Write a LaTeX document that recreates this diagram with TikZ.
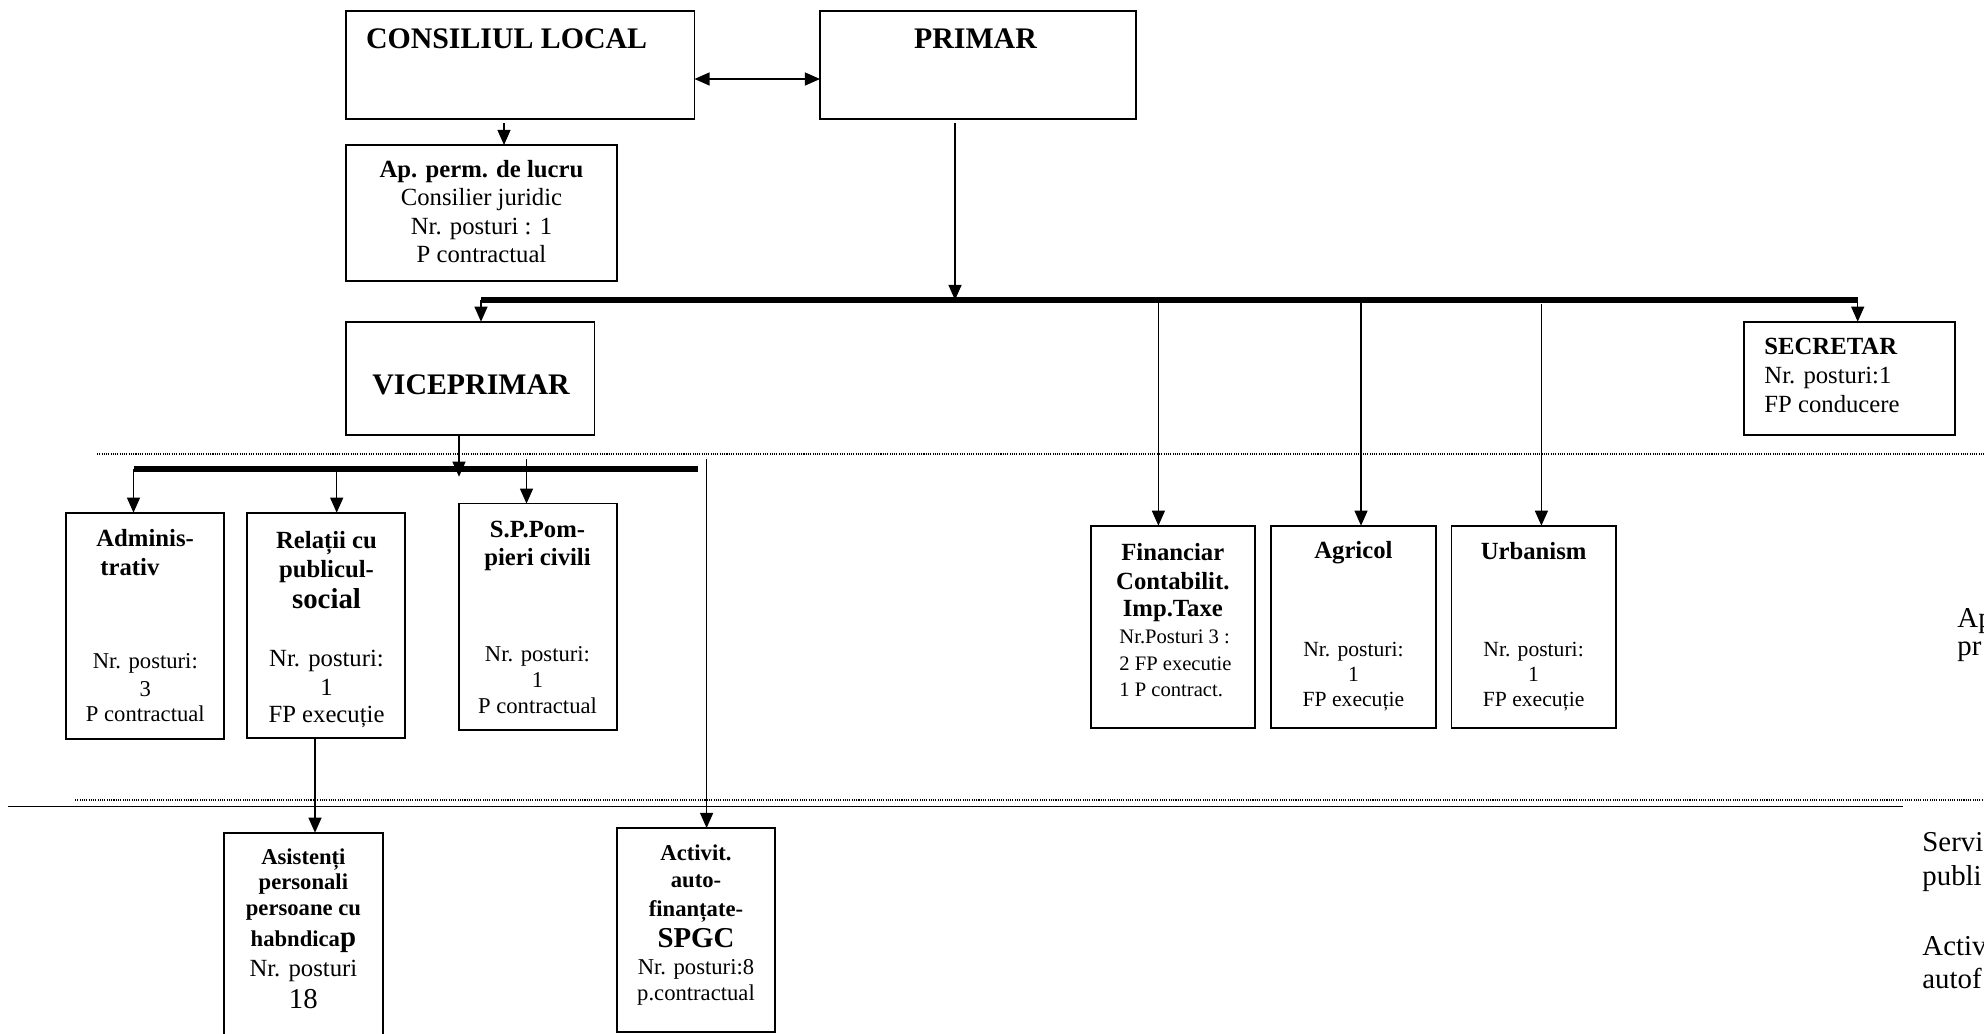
\documentclass[tikz,border=0pt]{standalone}
\usepackage{fontspec}
\setmainfont{Liberation Serif}
\usetikzlibrary{arrows.meta,calc}
\newcommand{\fs}[1]{\fontsize{#1}{#1}\selectfont}
\newcommand{\mkbox}[5]{\node[boxst, minimum width={(#4-#2)*0.4858pt}, minimum height={(#5-#3)*0.4858pt}] (#1) at ({(#2+#4)/2},{(#3+#5)/2}) {};}
\begin{document}
\begin{tikzpicture}[x=0.4858pt,y=-0.4858pt,
  mytip/.tip={Triangle[length=7.3pt,width=6.3pt]},
  boxst/.style={draw, line width=0.85pt, inner sep=0pt, outer sep=0pt},
  conn/.style={line width=0.65pt, -mytip},
  dbl/.style={line width=0.65pt, mytip-mytip},
  plainline/.style={line width=0.65pt},
  bus/.style={line width=2.8pt},
  dots/.style={line width=0.5pt, dash pattern=on 0.5pt off 0.6pt},
  txt/.style={inner sep=0pt, anchor=base},
  txl/.style={inner sep=0pt, anchor=base west},
  H/.style={font=\fs{14.5}\bfseries},
  B12/.style={font=\fs{12}\bfseries},
  B11/.style={font=\fs{11}\bfseries},
  B14/.style={font=\fs{14}\bfseries},
  R12/.style={font=\fs{12}},
  R11/.style={font=\fs{11}},
  R10/.style={font=\fs{10}},
  R105/.style={font=\fs{10.5}},
  R14/.style={font=\fs{14}}
]
\useasboundingbox (0,0) rectangle (1984,1034);

% ---------- boxes ----------
\mkbox{cl}{345.7}{11}{694.5}{119.3}
\mkbox{primar}{820}{11}{1136}{119.3}
\mkbox{ap}{346}{145}{617}{280.7}
\mkbox{vice}{346}{321.7}{594.6}{435}
\mkbox{sec}{1744.3}{321.7}{1955}{435}
\mkbox{adm}{66.3}{512.7}{224.3}{739}
\mkbox{rel}{246.7}{512.7}{405}{737.7}
\mkbox{spom}{459}{503.6}{616.8}{729.8}
\mkbox{fin}{1090.7}{525.7}{1255}{728.3}
\mkbox{agr}{1271}{525.7}{1435.7}{728.3}
\mkbox{urb}{1451.4}{525.7}{1615.8}{728.3}
\mkbox{asi}{224}{832.7}{382.7}{1050}
\mkbox{act}{616.8}{828}{775}{1031.7}

% ---------- texts ----------
\node[txl,H] (clt) at (365.6,48.3) {CONSILIUL LOCAL};
\node[txt,H] (prt) at (975.5,48.3) {PRIMAR};
\node[txt,H] (vit) at (471,395) {VICEPRIMAR};

\node[txt,B12] (ap1) at (481.5,177.5) {Ap. perm. de lucru};
\node[txt,R12] (ap2) at (481.5,206) {Consilier juridic};
\node[txt,R12] (ap3) at (481.5,234.5) {Nr. posturi : 1};
\node[txt,R12] (ap4) at (481.5,263) {P contractual};

\node[txl,B12] (se1) at (1764,355) {SECRETAR};
\node[txl,R12] (se2) at (1764,384) {Nr. posturi:1};
\node[txl,R12] (se3) at (1764,413) {FP conducere};

\node[txl,B12] (ad1) at (96,546.5) {Adminis-};
\node[txl,B12] (ad2) at (100,575) {trativ};
\node[txt,R11] (ad3) at (145.3,668.5) {Nr. posturi:};
\node[txt,R11] (ad4) at (145.3,696.5) {3};
\node[txt,R11] (ad5) at (145.3,721.7) {P contractual};

\node[txt,B12] (re1) at (326.5,548.3) {Relații cu};
\node[txt,B12] (re2) at (326.5,577.3) {publicul-};
\node[txt,B14] (re3) at (326.5,608.3) {social};
\node[txt,R12] (re4) at (326.5,666.7) {Nr. posturi:};
\node[txt,R12] (re5) at (326.5,695) {1};
\node[txt,R12] (re6) at (326.5,722.7) {FP execuție};

\node[txt,B12] (sp1) at (537.5,537) {S.P.Pom-};
\node[txt,B12] (sp2) at (537.5,565) {pieri civili};
\node[txt,R11] (sp3) at (537.5,661.5) {Nr. posturi:};
\node[txt,R11] (sp4) at (537.5,687) {1};
\node[txt,R11] (sp5) at (537.5,713.5) {P contractual};

\node[txt,B12] (fi1) at (1172.8,560) {Financiar};
\node[txt,B12] (fi2) at (1172.8,589) {Contabilit.};
\node[txt,B12] (fi3) at (1172.8,616) {Imp.Taxe};
\node[txl,R10] (fi4) at (1119,643.3) {Nr.Posturi 3 :};
\node[txl,R10] (fi5) at (1119,670) {2 FP executie};
\node[txl,R10] (fi6) at (1119,696.7) {1 P contract.};

\node[txt,B12] (ag1) at (1353.4,558.5) {Agricol};
\node[txt,R105] (ag2) at (1353.4,656) {Nr. posturi:};
\node[txt,R105] (ag3) at (1353.4,681) {1};
\node[txt,R105] (ag4) at (1353.4,706.5) {FP execuție};

\node[txt,B12] (ur1) at (1533.6,559.5) {Urbanism};
\node[txt,R105] (ur2) at (1533.6,656) {Nr. posturi:};
\node[txt,R105] (ur3) at (1533.6,681) {1};
\node[txt,R105] (ur4) at (1533.6,706.5) {FP execuție};

\node[txt,B11] (as1) at (303.4,864) {Asistenți};
\node[txt,B11] (as2) at (303.4,889) {personali};
\node[txt,B11] (as3) at (303.4,915) {persoane cu};
\node[txt,B11] (as4) at (303.4,946.5) {habndica{\fs{14}p}};
\node[txt,R12] (as5) at (303.4,976) {Nr. posturi};
\node[txt,R14] (as6) at (303.4,1008) {18};

\node[txt,B11] (ac1) at (696,860.5) {Activit.};
\node[txt,B11] (ac2) at (696,887.5) {auto-};
\node[txt,B11] (ac3) at (696,916.5) {finanțate-};
\node[txt,B14] (ac4) at (696,947.6) {SPGC};
\node[txt,R11] (ac5) at (696,974.8) {Nr. posturi:8};
\node[txt,R11] (ac6) at (696,1000.5) {p.contractual};

\node[txl,R14] (rt1) at (1957,627) {Ap};
\node[txl,R14] (rt2) at (1957,655) {pr};
\node[txl,R14] (rt3) at (1922,851.5) {Servi};
\node[txl,R14] (rt4) at (1922,885) {publi};
\node[txl,R14] (rt5) at (1922,955) {Activ};
\node[txl,R14] (rt6) at (1922,988) {autof};

% ---------- coordinates ----------
\coordinate (y79) at (0,79);
\coordinate (xcl) at (504,0);
\coordinate (xpr) at (955,0);
\coordinate (b1m) at (955,300);
\coordinate (b1l) at (481,300);
\coordinate (b1r) at (1857.7,300);
\coordinate (b1f) at (1158.4,300);
\coordinate (b1a) at (1361,300);
\coordinate (urt) at (1541.4,304);
\coordinate (d1a) at (97,454);
\coordinate (d1b) at (1990,454);
\coordinate (xv) at (459,476.7);
\coordinate (b2l) at (133.5,469.3);
\coordinate (b2r) at (698,469.3);
\coordinate (b2m) at (336.7,469.3);
\coordinate (sps) at (526.5,459);
\coordinate (acs) at (706.6,459);
\coordinate (xr) at (315,0);
\coordinate (d2a) at (75,800);
\coordinate (d2b) at (1990,800);
\coordinate (s2a) at (7.7,806.7);
\coordinate (s2b) at (1903,806.7);

% ---------- connectors ----------
\draw[dbl] (cl.east |- y79) -- (primar.west |- y79);
\draw[conn, shorten <=2pt] (cl.south -| xcl) -- (ap.north -| xcl);
\draw[conn, shorten <=2pt] (primar.south -| xpr) -- (b1m);
\draw[bus] (b1l) -- (b1r);
\draw[conn] (b1l) -- (vice.north -| b1l);
\draw[conn] (b1r) -- (sec.north -| b1r);
\draw[conn] (b1f) -- (fin.north -| b1f);
\draw[conn] (b1a) -- (agr.north -| b1a);
\draw[conn] (urt) -- (urb.north -| urt);

\draw[dots] (d1a) -- (d1b);

\draw[bus] (b2l) -- (b2r);
\draw[conn] (vice.south -| xv) -- (xv);
\draw[conn] (b2l) -- (adm.north -| b2l);
\draw[conn] (b2m) -- (rel.north -| b2m);
\draw[conn] (sps) -- (spom.north -| sps);
\draw[conn] (acs) -- (act.north -| acs);
\draw[conn] (rel.south -| xr) -- (asi.north -| xr);

\draw[dots] (d2a) -- (d2b);
\draw[plainline] (s2a) -- (s2b);
\end{tikzpicture}
\end{document}
